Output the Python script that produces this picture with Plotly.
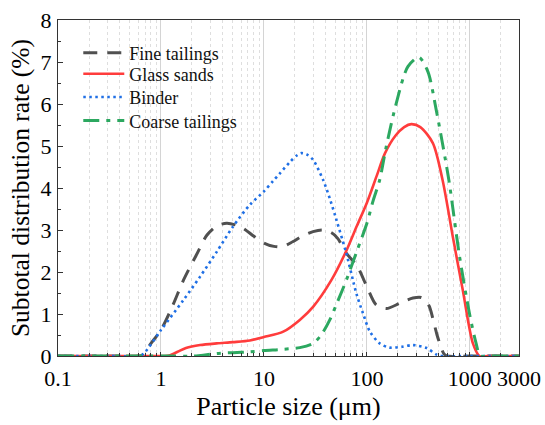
import plotly.graph_objects as go

# ---- data ----
fine_x = [0.1, 0.3, 0.6, 0.66, 0.8, 1.0, 1.3, 1.65, 2.2, 2.8, 3.5, 4.35, 5.3, 6.3, 8.0, 10, 12.5, 15, 19, 23, 30, 37, 45, 52, 63, 80, 100, 123, 155, 210, 280, 340, 400, 440, 480, 510, 560, 600, 1000, 3000]
fine_y = [0, 0, 0, 0.02, 0.3, 0.62, 1.2, 1.8, 2.4, 2.88, 3.1, 3.16, 3.12, 3.04, 2.85, 2.69, 2.61, 2.6, 2.72, 2.84, 2.96, 3.0, 2.94, 2.8, 2.45, 2.15, 1.65, 1.22, 1.13, 1.26, 1.38, 1.39, 1.2, 0.86, 0.5, 0.3, 0.05, 0, 0, 0]

glass_x = [0.1, 0.5, 1.06, 1.2, 1.45, 1.75, 2.4, 3.48, 5.0, 7.3, 10, 15.4, 22.3, 30, 45, 63, 80, 100, 125, 150, 190, 230, 270, 330, 437, 543, 683, 853, 1070, 1240, 1500, 3000]
glass_y = [0, 0, 0, 0.01, 0.1, 0.19, 0.26, 0.3, 0.33, 0.37, 0.45, 0.58, 0.86, 1.17, 1.8, 2.5, 3.1, 3.65, 4.3, 4.83, 5.25, 5.45, 5.52, 5.45, 5.07, 4.19, 2.84, 1.57, 0.3, 0, 0, 0]

binder_x = [0.1, 0.4, 0.63, 1.0, 1.65, 2.4, 3.48, 5.0, 7.3, 10, 12.3, 14.3, 17.9, 21, 23.2, 26, 30, 37.6, 44, 50.6, 63, 79, 91.5, 107, 133, 166, 220, 280, 380, 470, 540, 1000, 3000]
binder_y = [0, 0, 0, 0.62, 1.33, 1.89, 2.48, 3.08, 3.6, 3.92, 4.17, 4.35, 4.62, 4.78, 4.83, 4.8, 4.67, 4.19, 3.72, 3.24, 2.45, 1.49, 1.02, 0.58, 0.3, 0.2, 0.22, 0.26, 0.19, 0.04, 0, 0, 0]

coarse_x = [0.1, 1.0, 2.2, 2.57, 3.48, 5.0, 7.3, 10, 15.4, 22.3, 30, 36, 43.6, 52, 63, 80, 100, 115, 133, 154, 193, 250, 320, 391, 471, 625, 700, 795, 991, 1150, 1260, 1500, 3000]
coarse_y = [0, 0, 0, 0.02, 0.06, 0.08, 0.1, 0.13, 0.16, 0.2, 0.3, 0.5, 0.86, 1.3, 1.8, 2.5, 3.16, 3.7, 4.19, 4.98, 6.02, 6.89, 7.11, 6.77, 5.86, 4.19, 3.33, 2.36, 1.01, 0.3, 0, 0, 0]

series_names = ["Fine tailings", "Glass sands", "Binder", "Coarse tailings"]

# tick labels
x_tickvals = [0.1, 1, 10, 100, 1000, 3000]
x_ticktext = ["0.1", "1", "10", "100", "1000", "3000"]
x_minor = [m * 10 ** e for e in range(-1, 4) for m in range(2, 10) if m * 10 ** e < 3000]

FONT = "Liberation Serif"

fig = go.Figure()
styles = [
    (fine_x, fine_y, dict(color="#505050", width=3, dash="14px,10px")),
    (glass_x, glass_y, dict(color="#ff3c3c", width=2.6)),
    (binder_x, binder_y, dict(color="#1f6fe5", width=2.6, dash="2.5px,3.5px")),
    (coarse_x, coarse_y, dict(color="#2ca860", width=3, dash="16px,7px,4px,7px")),
]
legend_ids = ["legend", "legend2", "legend3", "legend4"]
legend_rows = [0.902, 0.839, 0.770, 0.700]
for name, (xs, ys, ln), lid in zip(series_names, styles, legend_ids):
    fig.add_trace(go.Scatter(x=xs, y=ys, mode="lines", name=name, legend=lid,
                             line=dict(shape="spline", smoothing=0.8, **ln)))

legend_style = dict(xanchor="left", yanchor="middle", x=0.044,
                    bgcolor="rgba(0,0,0,0)", font=dict(family=FONT, size=18, color="#111"),
                    itemwidth=41)
fig.update_layout(
    width=545, height=425,
    margin=dict(l=58, r=26, t=20, b=69),
    paper_bgcolor="white", plot_bgcolor="white",
    font=dict(family=FONT, color="black", size=22),
    showlegend=True,
    **{lid: dict(y=yr, **legend_style) for lid, yr in zip(legend_ids, legend_rows)},
)
fig.update_xaxes(
    type="log", range=[-1, 3.4771], automargin=False,
    tickvals=x_tickvals, ticktext=x_ticktext,
    ticks="inside", ticklen=4, tickwidth=1, tickcolor="#333",
    showline=True, linecolor="#333", linewidth=1.3, mirror=True,
    showgrid=True, gridcolor="#d4d4d4", gridwidth=1,
    minor=dict(tickvals=x_minor, ticks="inside", ticklen=3, tickcolor="#333",
               showgrid=True, gridcolor="#dedede", griddash="dot", gridwidth=1),
    tickfont=dict(size=22, family=FONT), ticklabelstandoff=2,
    title=dict(text="Particle size (μm)", font=dict(size=26, family=FONT), standoff=7),
    zeroline=False,
)
fig.update_yaxes(
    range=[0, 8], dtick=1, automargin=False,
    ticks="inside", ticklen=5, tickwidth=1, tickcolor="#333",
    showline=True, linecolor="#333", linewidth=1.3, mirror=True,
    showgrid=False, zeroline=False,
    minor=dict(dtick=0.5, ticks="inside", ticklen=3, tickcolor="#333", showgrid=False),
    tickfont=dict(size=22, family=FONT), ticklabelstandoff=1,
    title=dict(text="Subtotal distribution rate (%)", font=dict(size=25.5, family=FONT), standoff=3),
)
fig.write_html("out.html")
